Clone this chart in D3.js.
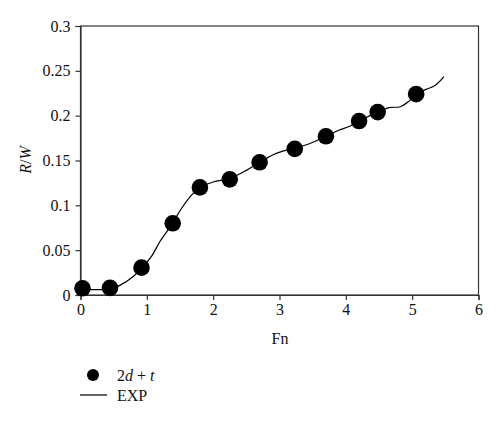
<!DOCTYPE html>
<html><head><meta charset="utf-8">
<script src="https://cdn.jsdelivr.net/npm/d3@7"></script>
<style>body{margin:0;background:#fff}svg{display:block}</style>
</head><body>
<script>
const ptFn = [0.03, 0.445, 0.92, 1.39, 1.80, 2.25, 2.70, 3.23, 3.70, 4.20, 4.48, 5.06];
const ptRW = [0.0075, 0.008, 0.0305, 0.080, 0.120, 0.129, 0.148, 0.163, 0.177, 0.194, 0.204, 0.224];
const expFn = [0, 0.2, 0.45, 0.6, 0.8, 0.92, 1.07, 1.2, 1.39, 1.5, 1.68, 1.8, 2.0, 2.25, 2.5, 2.7, 2.95, 3.23, 3.46, 3.7, 3.9, 4.05, 4.2, 4.48, 4.65, 4.82, 4.95, 5.06, 5.2, 5.35, 5.48];
const expRW = [0.006, 0.006, 0.0065, 0.011, 0.021, 0.030, 0.043, 0.060, 0.080, 0.094, 0.112, 0.120, 0.126, 0.130, 0.139, 0.148, 0.158, 0.164, 0.169, 0.177, 0.184, 0.188, 0.194, 0.204, 0.209, 0.210, 0.216, 0.224, 0.229, 0.234, 0.2435];
const xTicks = [0,1,2,3,4,5,6];
const yTicks = [0,0.05,0.1,0.15,0.2,0.25,0.3];
const yTickLabels = ["0","0.05","0.1","0.15","0.2","0.25","0.3"];

const W=500,H=422;
const svg=d3.select("body").append("svg").attr("width",W).attr("height",H);
const L=80.5,R=478.5,T=26,B=295;
const x=d3.scaleLinear().domain([0,6]).range([L,R]);
const y=d3.scaleLinear().domain([0,0.3]).range([B,T]);
const font="'Liberation Serif', 'Times New Roman', serif";
const ac="#333";
const fs=16;

// frame
svg.append("rect").attr("x",L).attr("y",T).attr("width",R-L).attr("height",B-T)
  .attr("fill","none").attr("stroke",ac).attr("stroke-width",1.2);

const xa=svg.append("g").attr("transform",`translate(0,${B})`)
  .call(d3.axisBottom(x).tickValues(xTicks).tickFormat(d3.format("d")).tickSize(5).tickPadding(4));
const ya=svg.append("g").attr("transform",`translate(${L},0)`)
  .call(d3.axisLeft(y).tickValues(yTicks).tickFormat((d,i)=>yTickLabels[i]).tickSize(5).tickPadding(5));
[xa,ya].forEach(g=>{
  g.attr("font-family",font).attr("font-size",fs);
  g.select(".domain").attr("stroke",ac).attr("stroke-width",1.2);
  g.selectAll(".tick line").attr("stroke",ac).attr("stroke-width",1.2);
  g.selectAll("text").attr("font-family",font).attr("font-size",fs).attr("fill","#111");
});

// EXP line
const line=d3.line().x(d=>x(d[0])).y(d=>y(d[1])).curve(d3.curveCatmullRom.alpha(0.5));
svg.append("path").datum(expFn.map((v,i)=>[v,expRW[i]]))
  .attr("d",line).attr("fill","none").attr("stroke","#000").attr("stroke-width",1.2);

// points
svg.append("g").selectAll("circle").data(ptFn.map((v,i)=>[v,ptRW[i]])).join("circle")
  .attr("cx",d=>x(d[0])).attr("cy",d=>y(d[1])).attr("r",8.3).attr("fill","#000");

// axis titles
svg.append("text").attr("x",280).attr("y",344).attr("text-anchor","middle")
  .attr("font-family",font).attr("font-size",fs).attr("fill","#111").text("Fn");
const yt=svg.append("text").attr("transform","translate(31,160) rotate(-90)").attr("text-anchor","middle")
  .attr("font-family",font).attr("font-size",fs).attr("fill","#111");
yt.append("tspan").attr("font-style","italic").text("R");
yt.append("tspan").text("/");
yt.append("tspan").attr("font-style","italic").text("W");

// legend
svg.append("circle").attr("cx",93).attr("cy",375).attr("r",6).attr("fill","#000");
const lt=svg.append("text").attr("x",117).attr("y",380.5).attr("font-family",font).attr("font-size",fs).attr("fill","#111");
lt.append("tspan").text("2");
lt.append("tspan").attr("font-style","italic").text("d");
lt.append("tspan").text(" + ");
lt.append("tspan").attr("font-style","italic").text("t");
svg.append("line").attr("x1",80).attr("x2",107).attr("y1",395).attr("y2",395).attr("stroke","#000").attr("stroke-width",1.2);
svg.append("text").attr("x",117).attr("y",400.5).attr("font-family",font).attr("font-size",fs).attr("fill","#111").text("EXP");
</script>
</body></html>
